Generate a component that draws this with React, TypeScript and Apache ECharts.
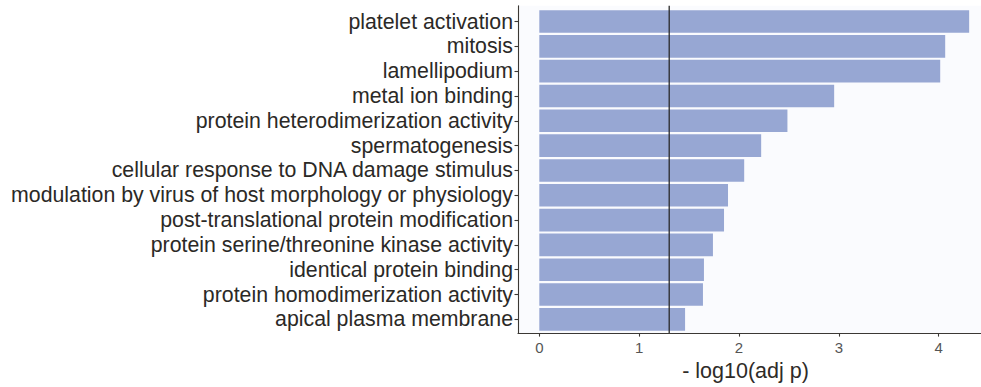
import React, { useEffect, useRef } from "react";
import * as echarts from "echarts";

const categories: string[] = [
  "platelet activation",
  "mitosis",
  "lamellipodium",
  "metal ion binding",
  "protein heterodimerization activity",
  "spermatogenesis",
  "cellular response to DNA damage stimulus",
  "modulation by virus of host morphology or physiology",
  "post-translational protein modification",
  "protein serine/threonine kinase activity",
  "identical protein binding",
  "protein homodimerization activity",
  "apical plasma membrane",
];

const negLog10AdjP: number[] = [
  4.305, 4.065, 4.015, 2.953, 2.485, 2.222, 2.052, 1.89, 1.85, 1.739, 1.649,
  1.639, 1.46,
];

const xTicks: number[] = [0, 1, 2, 3, 4];
const threshold: number = 1.301; // -log10(0.05)
const xAxisTitle = "- log10(adj p)";

const FONT = "'Liberation Sans', Arial, Helvetica, sans-serif";
const AXIS_COLOR = "#3b3834";
const BAR_COLOR = "#97a7d3";
const X_MIN = -0.2133;
const X_MAX = 4.4236;

export default function App() {
  const ref = useRef<HTMLDivElement>(null);

  useEffect(() => {
    if (!ref.current) return;
    const chart = echarts.init(ref.current, undefined, { renderer: "svg" });
    chart.setOption({
      animation: false,
      textStyle: { fontFamily: FONT },
      grid: [
        {
          left: 518,
          right: 0,
          top: 9.1,
          bottom: 55.2,
          show: false,
        },
        {
          left: 518,
          right: 0,
          top: 5.7,
          bottom: 53,
          show: true,
          backgroundColor: "#fafbfe",
          borderWidth: 0,
        },
      ],
      xAxis: [
        {
          type: "value",
          gridIndex: 0,
          min: X_MIN,
          max: X_MAX,
          show: false,
        },
        {
          type: "value",
          gridIndex: 1,
          min: X_MIN,
          max: X_MAX,
          name: xAxisTitle,
          nameLocation: "middle",
          nameGap: 24,
          nameTextStyle: {
            fontSize: 21.5,
            color: "#2e2b28",
            fontFamily: FONT,
            padding: [0, 8, 0, 0],
          },
          axisLine: {
            show: true,
            onZero: false,
            lineStyle: { color: AXIS_COLOR, width: 1.1 },
          },
          axisTick: {
            show: true,
            length: 3.5,
            customValues: xTicks,
            lineStyle: { color: AXIS_COLOR, width: 1.1 },
          },
          axisLabel: {
            show: true,
            customValues: xTicks,
            fontSize: 15,
            color: "#555555",
            margin: 7,
            fontFamily: FONT,
          },
          splitLine: { show: false },
        },
      ],
      yAxis: [
        {
          type: "category",
          gridIndex: 0,
          data: categories,
          inverse: true,
          axisLine: { show: false, onZero: false },
          axisTick: {
            show: true,
            alignWithLabel: true,
            interval: 0,
            length: 3.5,
            lineStyle: { color: AXIS_COLOR, width: 1.1 },
          },
          axisLabel: {
            interval: 0,
            fontSize: 21.3,
            color: "#2b2926",
            margin: 5,
            fontFamily: FONT,
          },
          splitLine: { show: false },
        },
        {
          type: "value",
          gridIndex: 1,
          min: 0,
          max: 1,
          axisLine: {
            show: true,
            onZero: false,
            lineStyle: { color: AXIS_COLOR, width: 1.1 },
          },
          axisTick: { show: false },
          axisLabel: { show: false },
          splitLine: { show: false },
        },
      ],
      series: [
        {
          type: "bar",
          xAxisIndex: 0,
          yAxisIndex: 0,
          data: negLog10AdjP,
          barCategoryGap: "9%",
          itemStyle: { color: BAR_COLOR },
          silent: true,
          z: 3,
        },
        {
          type: "line",
          xAxisIndex: 1,
          yAxisIndex: 1,
          data: [
            [threshold, 0],
            [threshold, 1],
          ],
          symbol: "none",
          lineStyle: { color: "#2a2a2a", width: 1.3 },
          silent: true,
          z: 5,
        },
      ],
    });
    return () => chart.dispose();
  }, []);

  return (
    <div
      ref={ref}
      style={{
        position: "fixed",
        left: 0,
        top: 0,
        width: 981,
        height: 387,
        background: "#ffffff",
      }}
    />
  );
}
